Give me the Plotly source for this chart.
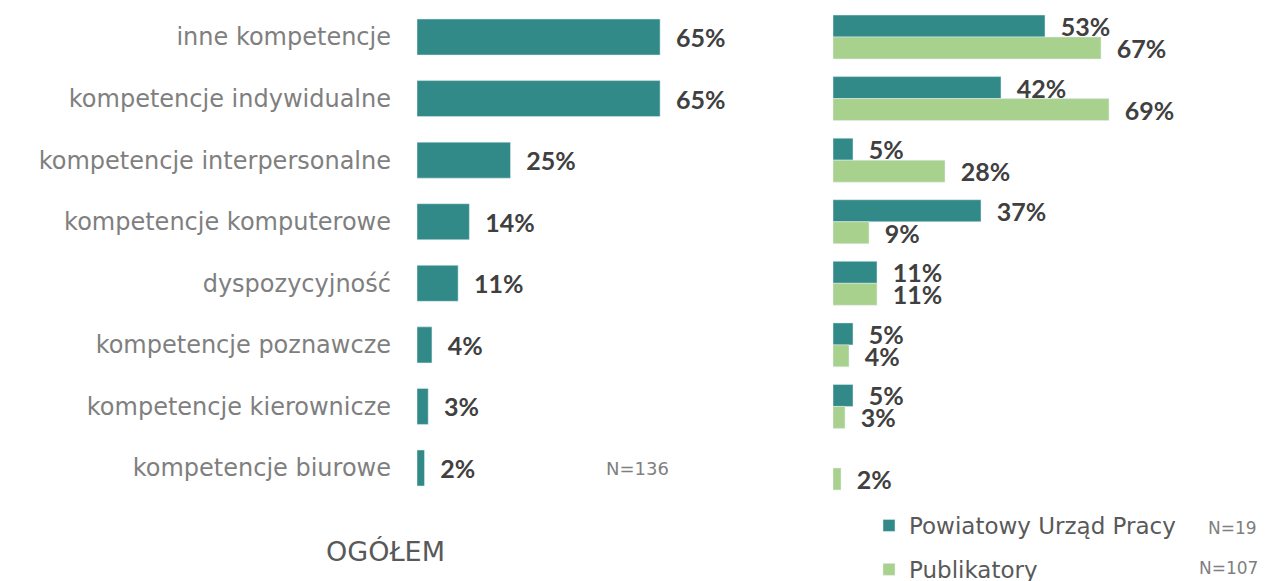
import plotly.graph_objects as go

# categories (top to bottom)
categories = [
    "inne kompetencje",
    "kompetencje indywidualne",
    "kompetencje interpersonalne",
    "kompetencje komputerowe",
    "dyspozycyjność",
    "kompetencje poznawcze",
    "kompetencje kierownicze",
    "kompetencje biurowe",
]
ogolem = [65, 65, 25, 14, 11, 4, 3, 2]
pup = [53, 42, 5, 37, 11, 5, 5, None]
publikatory = [67, 69, 28, 9, 11, 4, 3, 2]

TEAL = "#318a87"
GREEN = "#a9d18e"
LABEL_FONT = dict(family="Lato, Arial", size=25, color="#404040")
CAT_FONT = "Century Gothic, DejaVu Sans, sans-serif"
PAD = "\u00a0\u00a0"

# the page body has an 8px margin, so the figure is drawn inside it;
# the figure is a bit taller than the window so the legend fits without pushing margins
OFF = 8
W, H = 1269 - 2 * OFF, 600


def px(x):
    return (x - OFF) / W


def py(y):
    return 1 - (y - OFF) / H


fig = go.Figure()

# left panel: total
fig.add_trace(go.Bar(
    y=categories, x=ogolem, orientation="h", width=0.585,
    marker_color=TEAL, showlegend=False,
    texttemplate=PAD + "<b>%{x}%</b>", textposition="outside",
    textfont=LABEL_FONT, cliponaxis=False, constraintext="none",
    xaxis="x", yaxis="y",
))

# right panel: by source
fig.add_trace(go.Bar(
    y=categories, x=pup, orientation="h", width=0.357, offset=-0.357,
    marker_color=TEAL, name="Powiatowy Urząd Pracy", legendgroup="a",
    texttemplate=PAD + "<b>%{x}%</b>", textposition="outside",
    textfont=LABEL_FONT, cliponaxis=False, constraintext="none",
    xaxis="x2", yaxis="y2",
))
fig.add_trace(go.Bar(
    y=categories, x=publikatory, orientation="h", width=0.357, offset=0,
    marker_color=GREEN, name="Publikatory", legendgroup="b",
    texttemplate=PAD + "<b>%{x}%</b>", textposition="outside",
    textfont=LABEL_FONT, cliponaxis=False, constraintext="none",
    xaxis="x2", yaxis="y2",
))

row = 61.57
ydom = [py(498.8), 1.0]
yspan = (498.8 - OFF) / row
yrange = [7.5, 7.5 - yspan]

fig.update_layout(
    width=W, height=H,
    margin=dict(l=0, r=0, t=0, b=0),
    paper_bgcolor="white", plot_bgcolor="white",
    barmode="overlay",
    xaxis=dict(domain=[px(417), px(700)], range=[0, 283 / 3.74], visible=False),
    yaxis=dict(domain=ydom, categoryorder="array", categoryarray=categories,
               range=yrange, showline=False, showgrid=False, ticks="",
               tickfont=dict(family=CAT_FONT, size=24, color="#7f7f7f"),
               ticklabelstandoff=25),
    xaxis2=dict(domain=[px(833), 1.0], range=[0, (1261 - 833) / 4.0], visible=False, anchor="y2"),
    yaxis2=dict(domain=ydom, categoryorder="array", categoryarray=categories,
                range=yrange, visible=False, anchor="x2"),
    legend=dict(x=px(869), y=py(504), xanchor="left", yanchor="top",
                orientation="v", itemwidth=30, tracegroupgap=11,
                font=dict(family=CAT_FONT, size=23, color="#595959"),
                bgcolor="rgba(0,0,0,0)"),
    annotations=[
        dict(text="OGÓŁEM", x=px(385), y=py(551), xref="paper", yref="paper",
             xanchor="center", yanchor="middle", showarrow=False,
             font=dict(family=CAT_FONT, size=27, color="#595959")),
        dict(text="N=136", x=px(637), y=py(468), xref="paper", yref="paper",
             xanchor="center", yanchor="middle", showarrow=False,
             font=dict(family=CAT_FONT, size=18, color="#7f7f7f")),
        dict(text="N=19", x=px(1232), y=py(528), xref="paper", yref="paper",
             xanchor="center", yanchor="middle", showarrow=False,
             font=dict(family=CAT_FONT, size=17, color="#7f7f7f")),
        dict(text="N=107", x=px(1228), y=py(568), xref="paper", yref="paper",
             xanchor="center", yanchor="middle", showarrow=False,
             font=dict(family=CAT_FONT, size=17, color="#7f7f7f")),
    ],
)

fig.write_html("out.html")
